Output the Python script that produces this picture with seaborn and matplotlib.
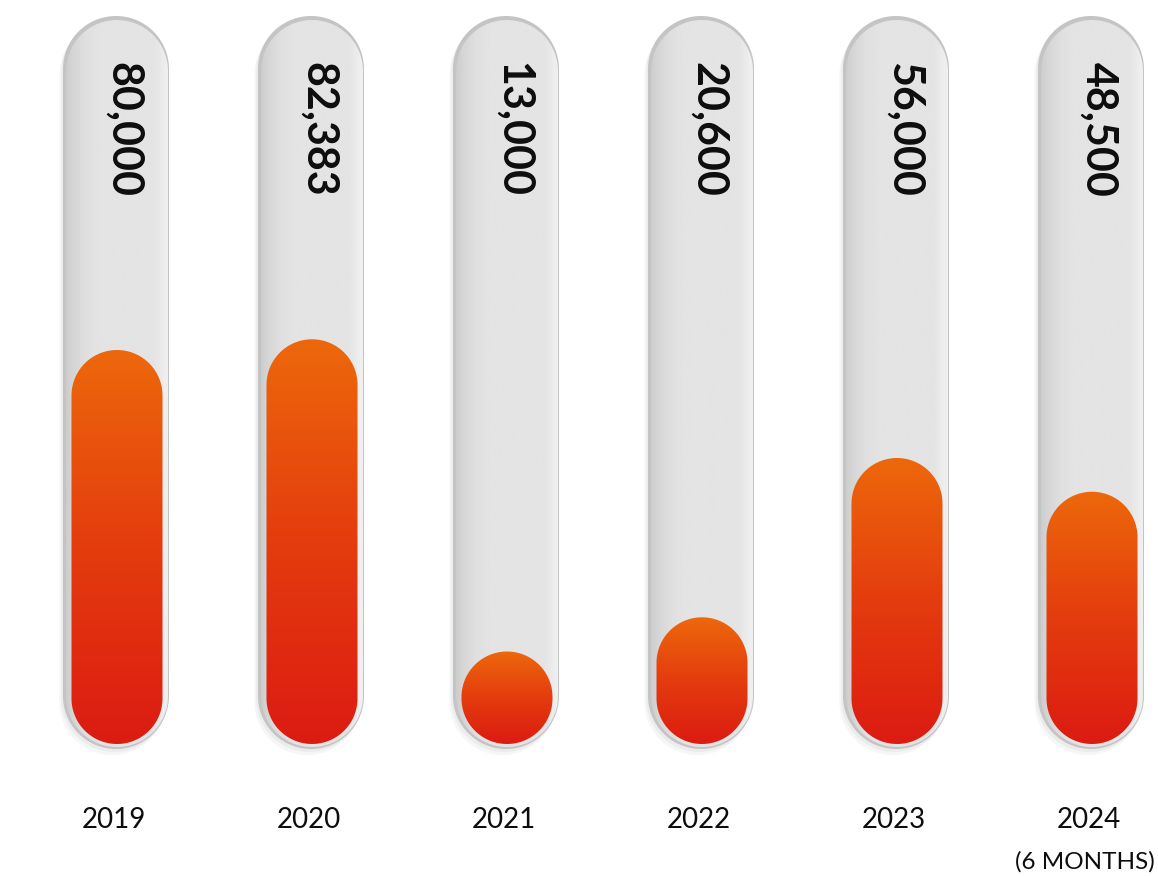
import numpy as np
import pandas as pd
import matplotlib
matplotlib.use("Agg")
import matplotlib.pyplot as plt
import seaborn as sns
from matplotlib.patches import PathPatch
from matplotlib.path import Path
from matplotlib.colors import LinearSegmentedColormap

# ---------------- data ----------------
years = ["2019", "2020", "2021", "2022", "2023", "2024"]
values = [80000, 82383, 13000, 20600, 56000, 48500]
value_labels = ["80,000", "82,383", "13,000", "20,600", "56,000", "48,500"]
sub_labels = ["", "", "", "", "", "(6 MONTHS)"]

# ---------------- layout ----------------
W, H, DPI = 1158, 876, 100
PX_X = 195.0          # pixels per category step
X0_PX = 116.0         # pixel of first category centre
PX_Y = 0.0045         # pixels per value unit
ZERO_PX = 710.0       # pixel row (from top) of value 0


def vy(pix):
    """pixel row (from top) -> value coordinate"""
    return (ZERO_PX - pix) / PX_Y


K = PX_X / PX_Y       # y-units per x-unit for equal display scaling

sns.set_theme(style="white")
plt.rcParams["font.family"] = ["Lato", "DejaVu Sans"]

fig = plt.figure(figsize=(W / DPI, H / DPI), dpi=DPI)
fig.patch.set_facecolor("white")
ax = fig.add_axes([0, 0, 1, 1])

df = pd.DataFrame({"year": years, "value": values})
sns.barplot(data=df, x="year", y="value", ax=ax, width=91 / PX_X,
            color="#E8560E", errorbar=None)


def pill_path(cx, hw, y0, y1, n=60):
    ry = hw * K
    ry_eff = min(ry, (y1 - y0) / 2.0)
    t_top = np.linspace(0, np.pi, n)
    t_bot = np.linspace(np.pi, 2 * np.pi, n)
    top = np.column_stack([cx + hw * np.cos(t_top), (y1 - ry_eff) + ry_eff * np.sin(t_top)])
    bot = np.column_stack([cx + hw * np.cos(t_bot), (y0 + ry_eff) + ry_eff * np.sin(t_bot)])
    verts = np.vstack([top, bot, top[:1]])
    codes = [Path.MOVETO] + [Path.LINETO] * (len(verts) - 2) + [Path.CLOSEPOLY]
    return Path(verts, codes)


tube_cmap = LinearSegmentedColormap.from_list(
    "tube", [(0.0, "#cdcdcd"), (0.06, "#d5d5d5"), (0.2, "#e0e0e0"), (0.32, "#e4e4e4"),
             (0.86, "#e4e4e4"), (0.93, "#ebebeb"), (1.0, "#f1f1f1")])
fill_cmap = LinearSegmentedColormap.from_list("fill", ["#DC1B12", "#E43C0E", "#ED680B"])

bars = list(ax.patches)
tube_top, tube_bot = vy(16), vy(749)
fill_bot = vy(744)
for i, p in enumerate(bars):
    cx = p.get_x() + p.get_width() / 2.0
    h = p.get_height()
    p.remove()

    hw_out = 53 / PX_X
    # soft shadow halo (left / bottom)
    for off, col in [(6, "#f6f6f6"), (3, "#ececec")]:
        sh = PathPatch(pill_path(cx - off / PX_X * 0.6, hw_out, vy(749 + off), vy(16 + off)),
                       facecolor=col, edgecolor="none", zorder=1)
        ax.add_patch(sh)
    # outer tube rim
    outer = PathPatch(pill_path(cx, hw_out, tube_bot, tube_top),
                      facecolor="#c4c4c4", edgecolor="none", zorder=2)
    ax.add_patch(outer)
    # inner tube with horizontal gradient
    hw_in = 50 / PX_X
    inner = PathPatch(pill_path(cx + 1 / PX_X, hw_in + 1 / PX_X, vy(747), vy(20)),
                      facecolor="none", edgecolor="none", zorder=3)
    ax.add_patch(inner)
    grad = np.linspace(0, 1, 256).reshape(1, -1)
    im = ax.imshow(grad, cmap=tube_cmap, aspect="auto", zorder=3,
                   extent=[cx - hw_in, cx + hw_in + 2 / PX_X, vy(747), vy(20)], origin="lower")
    im.set_clip_path(inner)

    # orange fill pill with vertical gradient
    hw_f = p.get_width() / 2.0
    fpatch = PathPatch(pill_path(cx + 1 / PX_X, hw_f, fill_bot, h),
                       facecolor="none", edgecolor="none", zorder=4)
    ax.add_patch(fpatch)
    vg = np.linspace(0, 1, 256).reshape(-1, 1)
    im2 = ax.imshow(vg, cmap=fill_cmap, aspect="auto", zorder=4,
                    extent=[cx - hw_f, cx + hw_f + 2 / PX_X, fill_bot, h], origin="lower")
    im2.set_clip_path(fpatch)

    # value label
    ax.text(cx + 8 / PX_X, vy(62), value_labels[i], rotation=-90, ha="center", va="top",
            fontsize=31, fontweight="bold", color="#0d0d0d", zorder=6)
    # year label
    ax.text(cx - 2 / PX_X, vy(820), years[i], ha="center", va="center",
            fontsize=20, color="#0d0d0d", zorder=6)
    if sub_labels[i]:
        ax.text((W - 3 - X0_PX) / PX_X, vy(862), sub_labels[i], ha="right", va="center",
                fontsize=17.5, color="#0d0d0d", zorder=6)

ax.set_xlim(-X0_PX / PX_X, (W - X0_PX) / PX_X)
ax.set_ylim(vy(H), vy(0))
ax.set_axis_off()

fig.savefig("out.png", dpi=DPI, facecolor="white")
